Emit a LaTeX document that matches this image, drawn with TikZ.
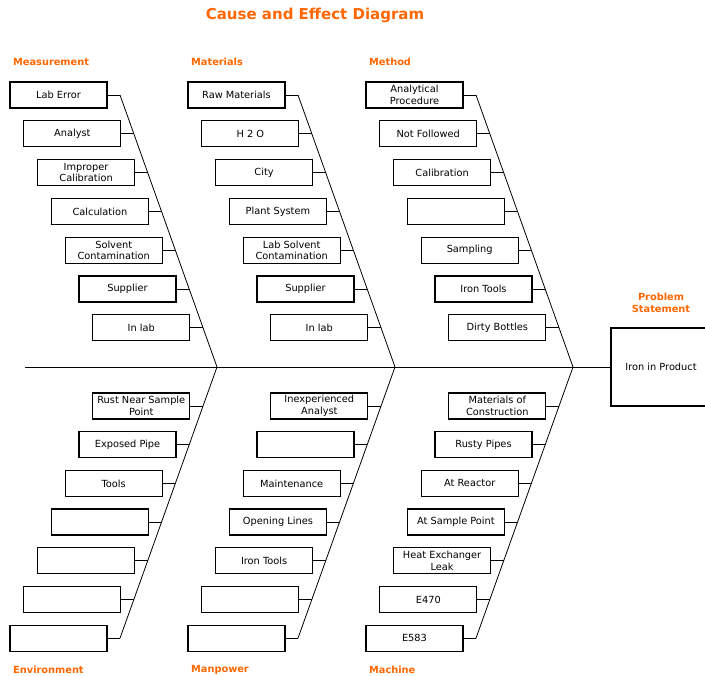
\documentclass[tikz,border=0pt]{standalone}
\usepackage{fontspec}
\setmainfont{DejaVu Sans}
\definecolor{catorange}{HTML}{FF6600}

% upper branch: #1 prefix, #2 x offset, #3 cause texts (top to bottom)
\newcommand\upperbranch[3]{%
  \coordinate (#1-top) at (#2+120,95);
  \coordinate (#1-end) at (#2+217,367);
  \draw[bone] (#1-top) -- (#1-end);
  \foreach \t [count=\i from 0] in {#3} {
    \node[causebox] (#1-\i) at ({#2+58.5+13.8*\i},{95+38.8*\i}) {\t};
    \coordinate (#1-j\i) at ({#2+120+13.84*\i},{95+38.8*\i});
    \draw[bone] (#1-\i.east) -- (#1-j\i);
  }
}
% lower branch: #1 prefix, #2 x offset, #3 cause texts (top to bottom)
\newcommand\lowerbranch[3]{%
  \coordinate (#1-top) at (#2+217,367);
  \coordinate (#1-end) at (#2+120,638.2);
  \draw[bone] (#1-top) -- (#1-end);
  \foreach \t [count=\i from 0] in {#3} {
    \node[causebox] (#1-\i) at ({#2+58.5+13.8*(6-\i)},{406+38.7*\i}) {\t};
    \coordinate (#1-j\i) at ({#2+203.04-13.85*\i},{406+38.7*\i});
    \draw[bone] (#1-\i.east) -- (#1-j\i);
  }
}

\begin{document}
\begin{tikzpicture}[x=1pt,y=-1pt,
  causebox/.style={draw, line width=1.2pt, minimum width=97pt, minimum height=26pt,
    inner sep=0pt, align=center, font=\fontsize{9.8}{11.7}\selectfont},
  bone/.style={line width=0.8pt},
  cat/.style={text=catorange, font=\bfseries\fontsize{9.8}{12.3}\selectfont, inner sep=0pt},
]
\useasboundingbox (0,0) rectangle (705,676);

% title
\node[text=catorange, font=\bfseries\fontsize{15}{18}\selectfont] (title) at (315,15) {Cause and Effect Diagram};

% effect and spine
\node[draw, line width=1.2pt, minimum width=100pt, minimum height=78pt, inner sep=0pt,
  font=\fontsize{9.8}{11.7}\selectfont] (effect) at (661,367) {Iron in Product};
\node[cat, align=center] (problem) at (661,303) {Problem\\Statement};
\coordinate (spine-start) at (25,367);
\draw[bone] (spine-start) -- (effect.west);

% category labels
\node[cat, anchor=west] (measurement) at (13,62) {Measurement};
\node[cat, anchor=west] (materials) at (191,62) {Materials};
\node[cat, anchor=west] (method) at (369,62) {Method};
\node[cat, anchor=west] (environment) at (13,670) {Environment};
\node[cat, anchor=west] (manpower) at (191,670) {Manpower};
\node[cat, anchor=west] (machine) at (369,670) {Machine};

% upper branches
\upperbranch{meas}{0}{Lab Error, Analyst, {Improper\\Calibration}, Calculation,
  {Solvent\\Contamination}, Supplier, In lab}
\upperbranch{matl}{178}{Raw Materials, H 2 O, City, Plant System,
  {Lab Solvent\\Contamination}, Supplier, In lab}
\upperbranch{meth}{356}{{Analytical\\Procedure}, Not Followed, Calibration, \relax,
  Sampling, Iron Tools, Dirty Bottles}

% lower branches
\lowerbranch{envi}{0}{{Rust Near Sample\\Point}, Exposed Pipe, Tools, \relax, \relax, \relax, \relax}
\lowerbranch{manp}{178}{{Inexperienced\\Analyst}, \relax, Maintenance, Opening Lines,
  Iron Tools, \relax, \relax}
\lowerbranch{mach}{356}{{Materials of\\Construction}, Rusty Pipes, At Reactor,
  At Sample Point, {Heat Exchanger\\Leak}, E470, E583}
\end{tikzpicture}
\end{document}
